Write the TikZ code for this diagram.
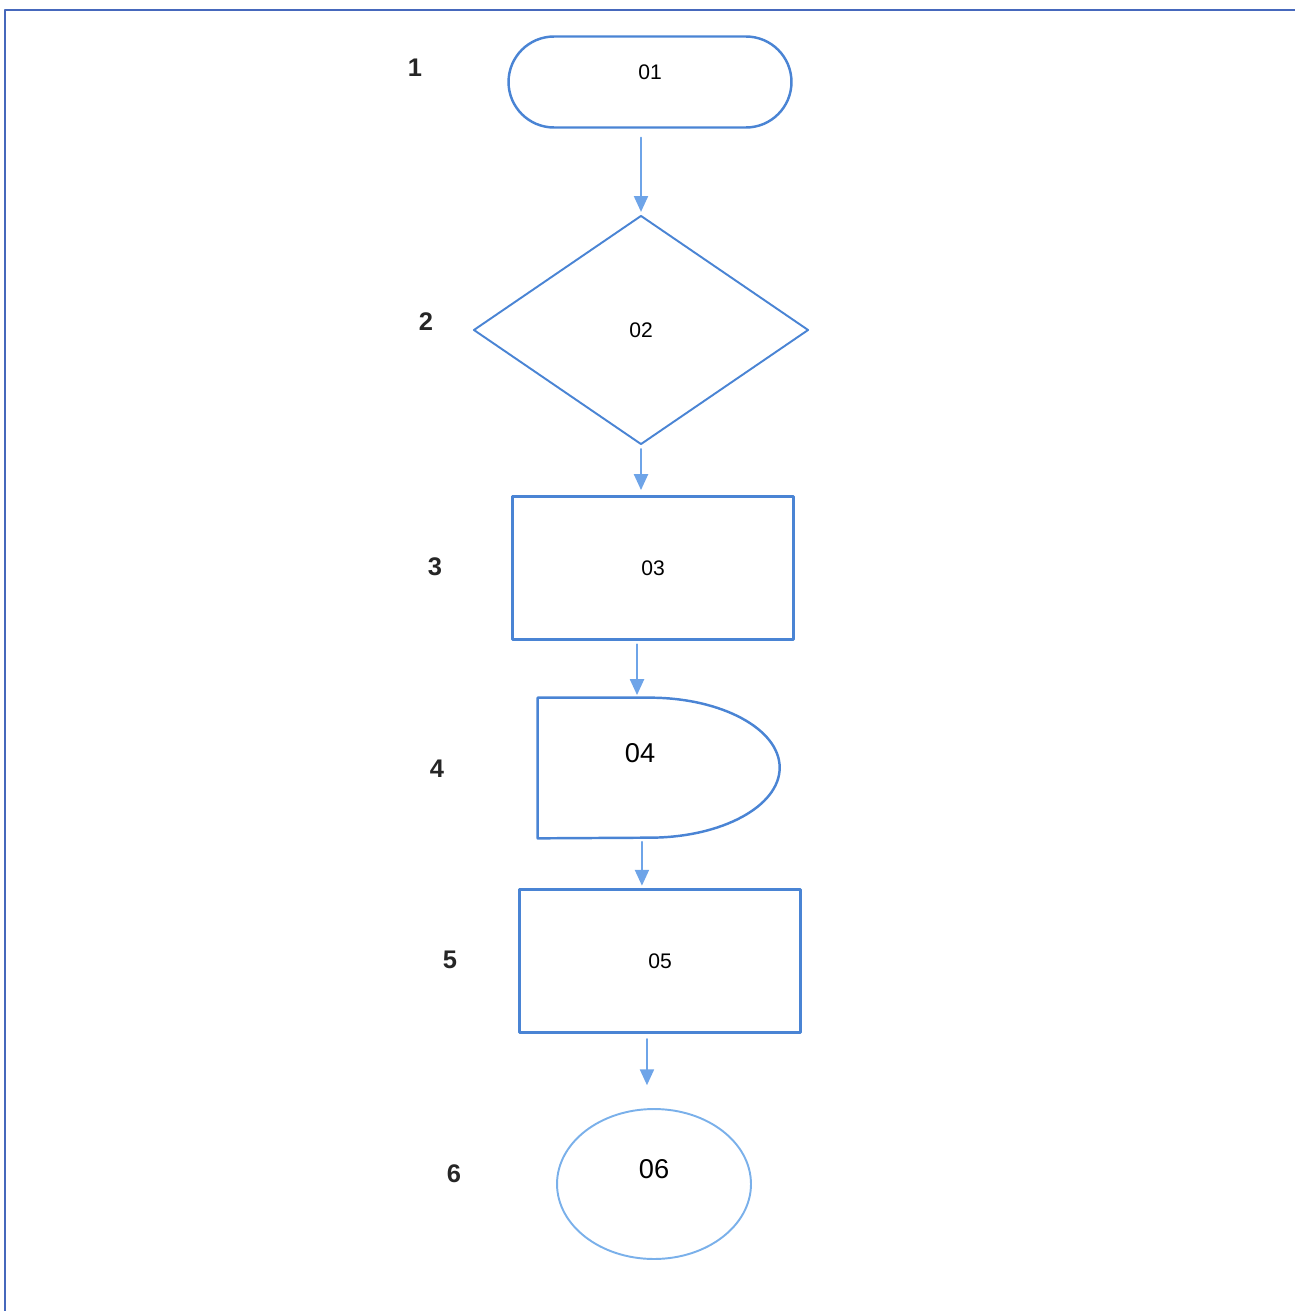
\documentclass[tikz,border=0pt]{standalone}
\usepackage{fontspec}
\setmainfont{Liberation Sans}
\usetikzlibrary{arrows.meta,shapes.geometric}
\definecolor{shapeblue}{RGB}{74,132,212}
\definecolor{flowblue}{RGB}{110,164,232}
\definecolor{ovalblue}{RGB}{122,176,234}
\definecolor{frameblue}{RGB}{70,104,188}

\begin{document}
\begin{tikzpicture}[line cap=round,line join=round,>={Triangle[length=9pt,width=8pt]},x=0.02cm,y=0.02cm,
    box/.style={draw=shapeblue,line width=1.4pt,minimum width=5.62cm,minimum height=2.86cm,inner sep=0pt,font=\fontsize{12}{14}\selectfont},
    flow/.style={->,color=flowblue,line width=1pt,shorten <=2pt,shorten >=1.5pt},
    stepno/.style={font=\fontsize{14.5}{16}\selectfont\bfseries,text=black!85}]
    \useasboundingbox (0,0) rectangle (1295,-1311);
    \draw[color=frameblue,line width=1.2pt,line cap=butt] (5,-1311) -- (5,-10) -- (1295,-10);
    \node[box,rounded corners=0.91cm,minimum width=5.66cm,minimum height=1.82cm,text depth=0.4cm] (n1) at (650,-82) {01};
    \node[box,diamond,minimum width=6.7cm,minimum height=4.58cm,line width=1.1pt] (n2) at (641,-330) {02};
    \node[box] (n3) at (653,-568) {03};
    \node[inner sep=0pt,minimum width=4.08cm,minimum height=2.8cm,text depth=0.6cm,font=\fontsize{15.5}{17}\selectfont] (n4) at (640,-768) {04};
    \draw[color=shapeblue,line width=1.4pt] (n4.south west) -- (n4.north west) -- ++(112,0) arc[start angle=90,end angle=-90,x radius=130,y radius=70] -- cycle;
    \node[box] (n5) at (660,-961) {05};
    \node[box,ellipse,draw=ovalblue,line width=1.1pt,minimum width=3.88cm,minimum height=3cm,text depth=0.6cm,font=\fontsize{15.5}{17}\selectfont] (n6) at (654,-1184) {06};
    \node[stepno] (l1) at (415,-68) {1};
    \node[stepno] (l2) at (426,-322) {2};
    \node[stepno] (l3) at (435,-567) {3};
    \node[stepno] (l4) at (437,-769) {4};
    \node[stepno] (l5) at (450,-960) {5};
    \node[stepno] (l6) at (454,-1174) {6};
    \draw[flow,shorten <=5pt] (n1.south -| n2.north) -- (n2.north);
    \draw[flow,shorten >=3pt] (n2.south) -- (n2.south |- n3.north);
    \draw[flow] ([xshift=-1.7pt]n3.south -| n4.north) -- ([xshift=-1.7pt]n4.north);
    \draw[flow] ([xshift=1.1pt]n4.south) -- ([xshift=1.1pt]n4.south |- n5.north);
    \draw[flow,shorten <=3pt,shorten >=13pt] ([xshift=-4pt]n5.south -| n6.north) -- ([xshift=-4pt]n6.north);
\end{tikzpicture}
\end{document}
